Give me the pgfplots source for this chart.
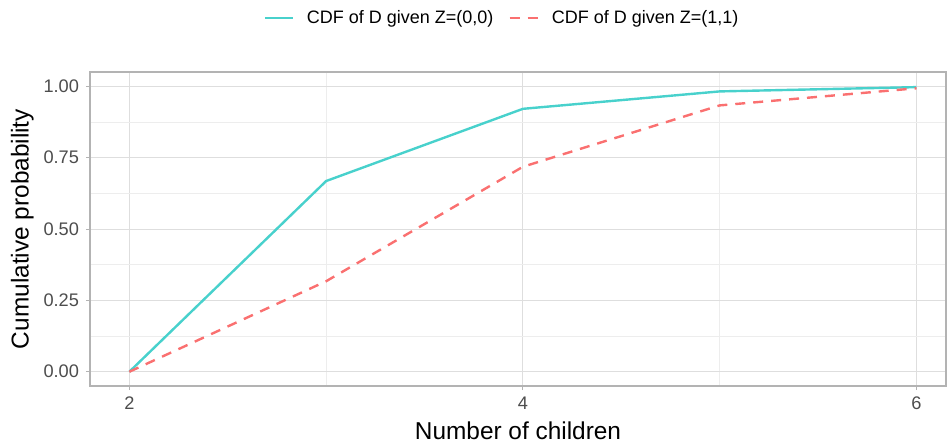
\documentclass[border=0pt]{standalone}
\usepackage{pgfplots}
\pgfplotsset{compat=1.18}
\usepackage{fontspec}
\setmainfont{Liberation Sans}
\definecolor{cteal}{HTML}{48D1CC}
\definecolor{cred}{HTML}{FA7070}
\definecolor{gridc}{HTML}{DEDEDE}
\definecolor{gridm}{HTML}{EDEDED}
\definecolor{bordc}{HTML}{B3B3B3}
\definecolor{tickc}{HTML}{4D4D4D}
\begin{document}
\begin{tikzpicture}
\useasboundingbox (-45pt,-29.5pt) rectangle (429pt,193pt);
\begin{axis}[
  at={(0,0)}, anchor=south west,
  scale only axis, width=428pt, height=157pt,
  xmin=1.8, xmax=6.15, ymin=-0.05, ymax=1.05,
  xtick={2,4,6}, minor xtick={3,5},
  ytick={0,0.25,0.5,0.75,1}, minor ytick={0.125,0.375,0.625,0.875},
  yticklabels={0.00,0.25,0.50,0.75,1.00},
  grid=both,
  major grid style={gridc, line width=0.5pt},
  minor grid style={gridm, line width=0.3pt},
  axis line style={bordc, line width=0.6pt},
  tick style={bordc, line width=0.5pt},
  major tick length=2pt, minor tick length=0pt,
  tick align=outside,
  xtick pos=bottom, ytick pos=left,
  ticklabel style={font=\fontsize{9.1}{10}\selectfont, text=tickc},
  /pgf/number format/assume math mode=true,
  xlabel={Number of children}, ylabel={Cumulative probability},
  label style={font=\fontsize{12.2}{14}\selectfont},
  xlabel style={yshift=1pt},
  ylabel style={yshift=-2pt},
  legend columns=2,
  legend style={draw=none, fill=none, at={(0.4825,1.172)}, anchor=center,
    font=\fontsize{9}{10}\selectfont,
    /tikz/every odd column/.append style={column sep=4.5pt},
    /tikz/every even column/.append style={column sep=5.5pt}},
  legend image code/.code={\draw[#1] (0pt,0pt) -- (14pt,0pt);},
]
\addplot[cteal, line width=1.2pt] coordinates {(2,0) (3,0.668) (4,0.921) (5,0.982) (6,0.997)};
\addlegendentry{CDF of D given Z=(0,0)}
\addplot[cred, line width=1.2pt, dash pattern=on 5pt off 4pt] coordinates {(2,0) (3,0.317) (4,0.718) (5,0.933) (6,0.993)};
\addlegendentry{CDF of D given Z=(1,1)}
\end{axis}
\end{tikzpicture}
\end{document}
